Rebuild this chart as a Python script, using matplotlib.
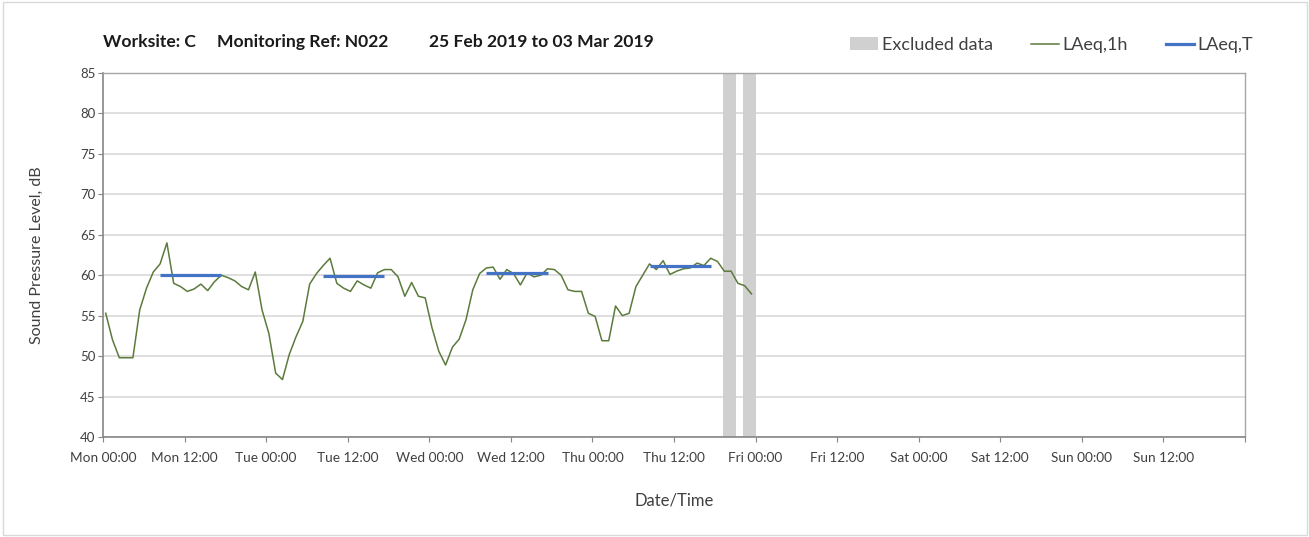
import numpy as np
import matplotlib
matplotlib.use("Agg")
import matplotlib.pyplot as plt
from matplotlib.patches import Patch, Rectangle
from matplotlib.lines import Line2D

plt.rcParams['font.family'] = ['Lato', 'DejaVu Sans']

# ---------------- data ----------------
# hourly LAeq,1h values, Mon 00:00 onwards (hour index)
laeq_1h = [55.3, 52.0, 49.8, 49.8, 49.8, 55.7, 58.4, 60.4, 61.4, 64.0,
           59.0, 58.6, 58.0, 58.3, 58.9, 58.1, 59.2, 60.0, 59.7, 59.3,
           58.6, 58.2, 60.4, 55.7, 52.8, 47.9, 47.1, 50.2, 52.4, 54.3,
           58.9, 60.2, 61.2, 62.1, 59.0, 58.4, 58.0, 59.3, 58.8, 58.4,
           60.3, 60.7, 60.7, 59.8, 57.4, 59.1, 57.4, 57.2, 53.5, 50.6,
           48.9, 51.1, 52.1, 54.5, 58.2, 60.2, 60.9, 61.0, 59.5, 60.7,
           60.2, 58.8, 60.3, 59.8, 60.0, 60.8, 60.7, 60.0, 58.2, 58.0,
           58.0, 55.3, 54.9, 51.9, 51.9, 56.2, 55.0, 55.3, 58.6, 60.0,
           61.4, 60.7, 61.8, 60.1, 60.5, 60.8, 60.9, 61.5, 61.2, 62.1,
           61.7, 60.5, 60.5, 59.0, 58.7, 57.7]
hour_index = np.arange(len(laeq_1h))
point_offset_h = 0.4

# LAeq,T daytime periods (start hour, end hour, level)
laeq_t_start = [8, 32, 56, 80]
laeq_t_end = [17, 41, 65, 89]
laeq_t_level = [60.0, 59.9, 60.3, 61.2]

# excluded data periods (hours from Mon 00:00)
excl_start = [91.2, 94.1]
excl_end = [93.1, 96.0]

tick_labels = ["Mon 00:00", "Mon 12:00", "Tue 00:00", "Tue 12:00",
               "Wed 00:00", "Wed 12:00", "Thu 00:00", "Thu 12:00",
               "Fri 00:00", "Fri 12:00", "Sat 00:00", "Sat 12:00",
               "Sun 00:00", "Sun 12:00", ""]

# ---------------- figure ----------------
W, H = 1309, 537
fig = plt.figure(figsize=(W / 100, H / 100), dpi=100)
L, R, T, B = 103, 1245, 73, 437
ax = fig.add_axes([L / W, 1 - B / H, (R - L) / W, (B - T) / H])

green = '#5b7b3c'
blue = '#4472c4'
grey_bar = '#d0d0d0'
grid_c = '#d9d9d9'

for s, e in zip(excl_start, excl_end):
    ax.axvspan(s, e, color=grey_bar, lw=0, zorder=1)

ax.plot(hour_index + point_offset_h, laeq_1h, color=green, lw=1.1, zorder=3)
for s, e, v in zip(laeq_t_start, laeq_t_end, laeq_t_level):
    ax.plot([s + point_offset_h, e + point_offset_h], [v, v], color=blue,
            lw=2.3, solid_capstyle='butt', zorder=4)

ax.set_xlim(0, 168)
ax.set_ylim(40, 85)
ax.set_yticks(np.arange(40, 86, 5))
ax.set_xticks(np.arange(0, 169, 12))
ax.set_xticklabels(tick_labels)
ax.set_xticks(np.arange(24, 168, 24), minor=True)
ax.tick_params(axis='x', which='minor', length=0)
ax.grid(axis='y', which='major', color=grid_c, lw=1.2, zorder=0)
ax.grid(axis='x', which='minor', color=grid_c, lw=1.2, zorder=0)
ax.set_axisbelow(True)

ax.tick_params(axis='x', which='major', direction='out', length=3.5,
               color='#868686', labelsize=9.8, pad=7.5, labelcolor='#404040')
ax.tick_params(axis='y', which='major', direction='out', length=3.5,
               color='#868686', labelsize=9.5, pad=2, labelcolor='#404040')

for side in ['left', 'bottom']:
    ax.spines[side].set_color('#868686')
    ax.spines[side].set_linewidth(1.2)
for side in ['top', 'right']:
    ax.spines[side].set_color('#a6a6a6')
    ax.spines[side].set_linewidth(1.0)

ax.set_ylabel("Sound Pressure Level, dB", fontsize=11.5, color='#404040')
ax.yaxis.label.set_va('center')
ax.yaxis.set_label_coords((37 - L) / (R - L), 0.5)
ax.set_xlabel("Date/Time", fontsize=12, color='#404040')
ax.xaxis.label.set_va('center')
ax.xaxis.set_label_coords(0.5, -(501 - B) / (B - T))

# title pieces
ty = 1 - 42 / H
tfs = 12.6
fig.text(103 / W, ty, "Worksite: C", fontsize=tfs, fontweight='bold', va='center', color='#1a1a1a')
fig.text(217 / W, ty, "Monitoring Ref: N022", fontsize=tfs, fontweight='bold', va='center', color='#1a1a1a')
fig.text(429 / W, ty, "25 Feb 2019 to 03 Mar 2019", fontsize=tfs, fontweight='bold', va='center', color='#1a1a1a')

handles = [Patch(facecolor=grey_bar, edgecolor='none', label='Excluded data'),
           Line2D([], [], color=green, lw=1.1, label='LAeq,1h'),
           Line2D([], [], color=blue, lw=2.3, label='LAeq,T')]
leg = fig.legend(handles=handles, loc='center right',
                 bbox_to_anchor=(1253 / W, 1 - 45 / H), ncol=3, frameon=False,
                 fontsize=13, handlelength=1.55, handletextpad=0.2,
                 columnspacing=2.1, borderpad=0, borderaxespad=0)
for t in leg.get_texts():
    t.set_color('#404040')

# outer chart border
fig.patches.append(Rectangle((3 / W, 2 / H), (1307 - 3) / W, (535 - 2) / H,
                             transform=fig.transFigure, fill=False,
                             edgecolor='#d9d9d9', lw=1.0))

fig.savefig("out.png", dpi=100)
